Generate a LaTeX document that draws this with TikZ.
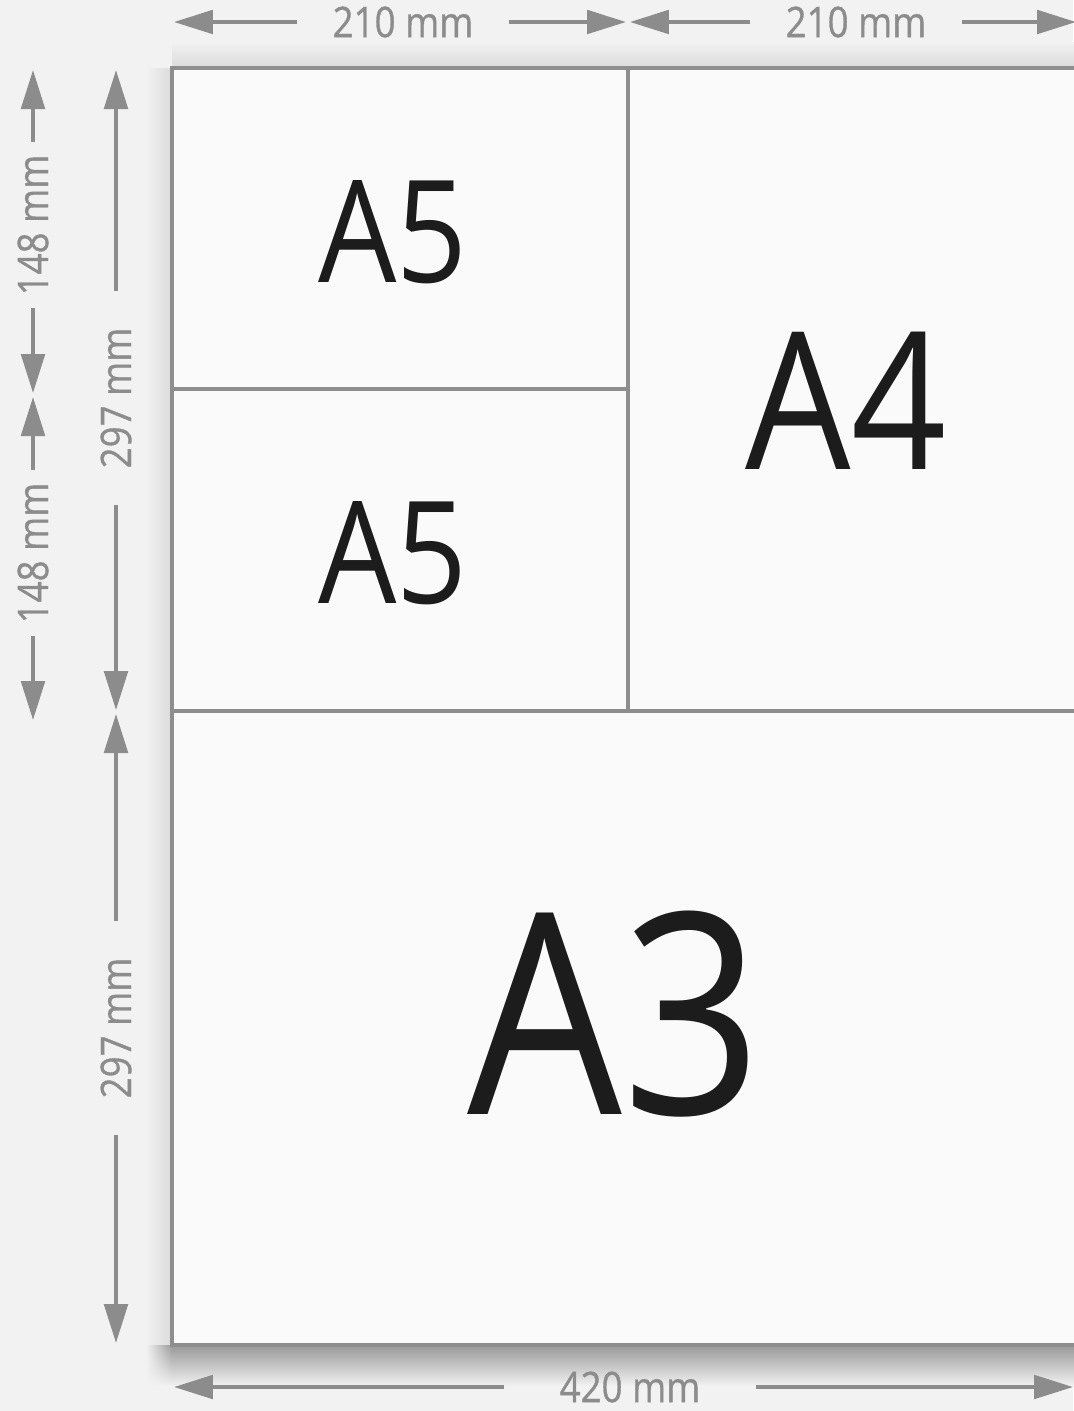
\documentclass[tikz,border=0pt]{standalone}
\usepackage{fontspec}
\setmainfont{Open Sans}[FakeStretch=0.87]
\newfontfamily\dimfont{Open Sans}[FakeStretch=0.87, FakeBold=0.8]
\usetikzlibrary{arrows.meta, positioning, shadings}
\definecolor{bg}{HTML}{F2F2F2}
\definecolor{sheet}{HTML}{FAFAFA}
\definecolor{edge}{HTML}{8E8E8E}
\definecolor{dim}{HTML}{8C8C8C}
\definecolor{ink}{HTML}{1C1C1C}
\definecolor{drop}{HTML}{989898}
\definecolor{soft}{HTML}{DADADA}

\begin{document}
\begin{tikzpicture}[
    x=0.02cm, y=-0.02cm,
    >={Triangle[length=0.78cm, width=0.47cm]},
    E/.style={draw=edge, line width=2pt},
    D/.style={->, draw=dim, line width=2.2pt},
    L/.style={text=dim, font=\dimfont\fontsize{24}{24}\selectfont, inner ysep=0pt, inner xsep=#1},
    S/.style={text=ink, font=\fontsize{#1}{#1}\selectfont, inner sep=0pt}
]

% === BACKGROUND ===
\useasboundingbox[fill=bg] (0,0) rectangle (1073,1411);

% === SHADOW ===
\shade[top color=bg, bottom color=soft] (172,42) rectangle (1084,68);
\shade[left color=bg, right color=soft] (146,68) rectangle (172,1345);
\shade[top color=drop, bottom color=bg] (172,1345) rectangle (1084,1386);
\shade[upper right=drop, upper left=bg, lower left=bg, lower right=bg] (146,1345) rectangle (172,1386);

% === SHEET ===
\coordinate (p-tl) at (172,68);
\coordinate (p-br) at (1084,1345);
\coordinate (p-mt) at (628,68);
\coordinate (p-mm) at (628,711);
\coordinate (p-lh) at (172,389);
\coordinate (p-lm) at (172,711);
\coordinate (p-rm) at (1084,711);

\fill[sheet] (p-tl) rectangle (p-br);
\draw[E] (p-tl) rectangle (p-br);
\draw[E] (p-mt) -- (p-mm);
\draw[E] (p-lh) -- (p-lh -| p-mm);
\draw[E] (p-lm) -- (p-rm);

\node[S=81] (a5t) at (393,232) {A5};
\node[S=81] (a5b) at (393,553) {A5};
\node[S=109] (a4) at (846,401) {A4};
\node[S=160] (a3) at (615,1014) {A3};

% === TOP: WIDTHS ===
\coordinate (t0) at (174,22);
\coordinate (t1) at (626,22);
\coordinate (t2) at (630,22);
\coordinate (t3) at (1076,22);

\node[L=0.7cm] (w1) at (403,22) {210 mm};
\node[L=0.7cm] (w2) at (856,22) {210 mm};

\draw[D] (w1.west) -- (t0);
\draw[D] (w1.east) -- (t1);
\draw[D] (w2.west) -- (t2);
\draw[D] (w2.east) -- (t3);

% === LEFT: HEIGHTS ===
\coordinate (l0) at (33,70);
\coordinate (l1) at (33,393);
\coordinate (l2) at (33,397);
\coordinate (l3) at (33,720);

\node[L=0.24cm, rotate=90] (h1) at (33,225) {148 mm};
\node[L=0.24cm, rotate=90] (h2) at (33,553) {148 mm};

\draw[D] (h1.east) -- (l0);
\draw[D] (h1.west) -- (l1);
\draw[D] (h2.east) -- (l2);
\draw[D] (h2.west) -- (l3);

\coordinate (i0) at (116,70);
\coordinate (i1) at (116,710);
\coordinate (i2) at (116,714);
\coordinate (i3) at (116,1343);

\node[L=0.72cm, rotate=90] (h3) at (116,398) {297 mm};
\node[L=0.72cm, rotate=90] (h4) at (116,1028) {297 mm};

\draw[D] (h3.east) -- (i0);
\draw[D] (h3.west) -- (i1);
\draw[D] (h4.east) -- (i2);
\draw[D] (h4.west) -- (i3);

% === BOTTOM: FULL WIDTH ===
\coordinate (b0) at (174,1387);
\coordinate (b1) at (1073,1387);

\node[L=1.1cm] (w3) at (630,1387) {420 mm};

\draw[D] (w3.west) -- (b0);
\draw[D] (w3.east) -- (b1);

\end{tikzpicture}
\end{document}
